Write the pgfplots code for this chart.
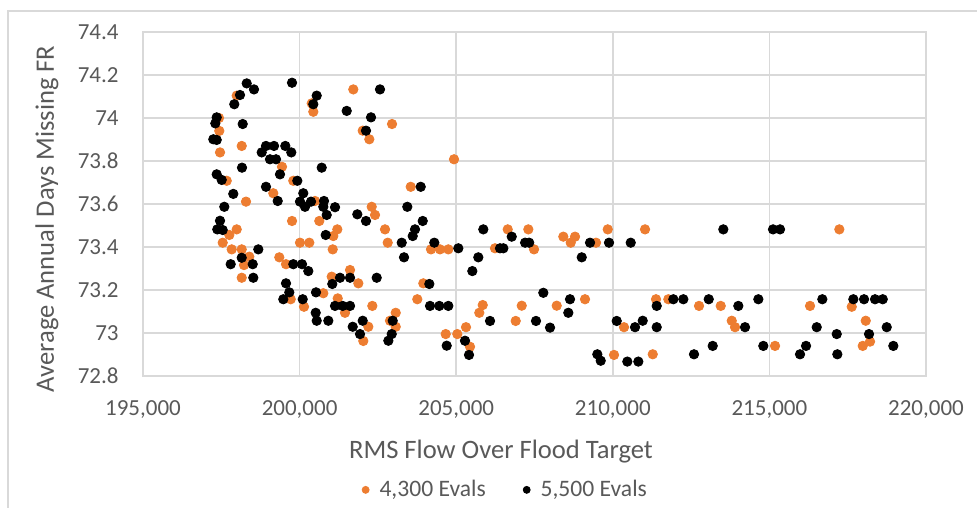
\documentclass[border=0pt]{standalone}
\usepackage{fontspec}
\setmainfont{Carlito}
\usepackage{pgfplots}
\usepackage{pgfplotstable}
\pgfplotsset{compat=1.18}

\definecolor{evalA}{HTML}{ED7D31}
\definecolor{evalB}{HTML}{000000}
\definecolor{txt}{HTML}{595959}
\definecolor{gridc}{HTML}{D9D9D9}

% 4,300 evaluations
\pgfplotstableread{
x y
197992 74.104
200387 74.068
200438 74.029
197427 74.000
197436 73.940
198152 73.870
197459 73.840
199438 73.773
197673 73.708
199799 73.708
199160 73.650
198289 73.611
200492 73.614
197992 73.482
197756 73.456
197545 73.420
197832 73.389
198152 73.389
198394 73.355
198225 73.316
199352 73.352
199566 73.320
198152 73.257
199758 73.521
200629 73.521
200013 73.420
200310 73.420
199716 73.157
200141 73.122
200757 73.185
201715 74.133
202951 73.972
202015 73.941
202226 73.901
203548 73.680
202302 73.587
202408 73.549
202727 73.482
201204 73.482
201076 73.451
202813 73.420
204196 73.389
204483 73.389
204748 73.389
201057 73.389
201610 73.293
201025 73.262
201875 73.231
203950 73.231
201217 73.161
201450 73.094
202322 73.126
203069 73.094
202887 73.057
203069 73.029
202194 73.029
202034 72.963
203758 73.157
204665 72.995
204930 73.808
206645 73.482
207303 73.482
207485 73.389
208420 73.448
208794 73.448
208656 73.420
209464 73.420
209838 73.482
206239 73.394
209113 73.157
208209 73.127
207092 73.127
205847 73.130
205738 73.094
206900 73.056
205036 72.995
205313 73.027
205441 72.936
210039 72.898
211029 73.482
211380 73.157
211773 73.157
212753 73.126
213446 73.126
210358 73.027
213797 73.057
213903 73.027
215180 72.940
211275 72.901
217233 73.482
216297 73.126
217629 73.122
218076 73.057
217980 72.940
218213 72.960
}\evalsA

% 5,500 evaluations
\pgfplotstableread{
x y
198311 74.161
198544 74.133
199758 74.164
198097 74.107
200546 74.104
197915 74.064
200438 74.064
197353 74.003
197309 73.975
198183 73.972
197245 73.901
197353 73.898
198927 73.870
199183 73.870
199544 73.870
199735 73.840
198790 73.840
199055 73.808
199247 73.808
198161 73.769
199374 73.738
200706 73.769
197353 73.738
197513 73.712
199927 73.708
198927 73.680
197883 73.647
200118 73.650
199301 73.614
197596 73.587
200013 73.611
200364 73.611
200779 73.614
200173 73.587
200757 73.587
200865 73.549
197459 73.522
197372 73.482
197545 73.479
198682 73.389
198152 73.350
197800 73.320
198503 73.320
199799 73.320
200077 73.320
200278 73.288
198522 73.257
200834 73.456
199566 73.231
199671 73.189
199480 73.157
200099 73.157
200524 73.189
200514 73.094
200546 73.057
200917 73.057
202567 74.133
201504 74.033
202280 74.003
202120 73.941
203867 73.680
203439 73.587
201131 73.585
201843 73.552
202120 73.521
203931 73.521
203685 73.482
203612 73.451
203260 73.420
204301 73.420
203334 73.352
201290 73.257
201610 73.257
201044 73.228
202462 73.257
204142 73.228
201131 73.126
201376 73.126
201610 73.126
202015 73.057
202973 73.057
201696 73.029
201929 72.995
202941 72.995
202834 72.964
204164 73.126
204461 73.126
204748 73.126
204697 72.941
205866 73.482
206773 73.448
207200 73.420
207330 73.420
209273 73.420
209879 73.420
209008 73.352
205068 73.394
206399 73.394
206505 73.394
205706 73.352
205515 73.288
207782 73.187
208634 73.157
208580 73.094
206080 73.056
207548 73.056
207996 73.025
210125 73.056
205281 72.964
205409 72.898
209506 72.901
209614 72.871
210572 73.420
213529 73.482
215116 73.482
215339 73.482
211933 73.157
212252 73.157
211402 73.126
213063 73.157
214008 73.126
214647 73.157
210710 73.027
210955 73.057
211402 73.027
214222 73.027
213190 72.940
214806 72.940
212593 72.901
210464 72.867
210815 72.867
216690 73.157
217680 73.157
218022 73.157
218373 73.157
218619 73.157
216511 73.027
217150 72.995
218181 72.995
218746 73.027
216170 72.940
215978 72.901
217169 72.901
218957 72.940
}\evalsB

\begin{document}
\begin{tikzpicture}
\useasboundingbox (-71.5bp,-66bp) rectangle (417bp,188bp);
% chart area frame
\draw[gridc, line width=0.8bp] (-67.5bp,-66bp) -- (-67.5bp,182.5bp) -- (417bp,182.5bp);
\begin{axis}[
  scale only axis,
  width=391.5bp, height=172bp,
  xmin=195000, xmax=220000,
  ymin=72.8, ymax=74.4,
  xtick={195000,200000,205000,210000,215000,220000},
  xticklabels={{195,000},{200,000},{205,000},{210,000},{215,000},{220,000}},
  ytick={72.8,73,73.2,73.4,73.6,73.8,74,74.2,74.4},
  yticklabels={72.8,73,73.2,73.4,73.6,73.8,74,74.2,74.4},
  scaled x ticks=false, scaled y ticks=false,
  major tick length=0pt,
  grid=major,
  major grid style={gridc, line width=0.8bp},
  axis line style={gridc, line width=0.8bp},
  tick label style={text=txt, font=\fontsize{11.5bp}{14bp}\selectfont, inner sep=0pt},
  xticklabel style={anchor=north, yshift=-12bp},
  yticklabel style={anchor=east, xshift=-12bp},
  xlabel={RMS Flow Over Flood Target},
  ylabel={Average Annual Days Missing FR},
  every axis x label/.style={at={(axis description cs:0.4572,0)}, anchor=base, yshift=-41bp,
    text=txt, font=\fontsize{13.3bp}{16bp}\selectfont, inner sep=0pt},
  % rotated label: its local y axis points left
  every axis y label/.style={at={(axis description cs:0,0.4564)}, rotate=90, anchor=base, yshift=44.5bp,
    text=txt, font=\fontsize{13.3bp}{16bp}\selectfont, inner sep=0pt},
  legend style={at={(0.464,-0.331)}, anchor=center, draw=none, fill=none,
    font=\fontsize{11.8bp}{14bp}\selectfont, text=txt,
    /tikz/every odd column/.append style={column sep=3bp},
    /tikz/every even column/.append style={column sep=16.5bp}},
  legend columns=2,
  legend image code/.code={\fill (0bp,0bp) circle (1.75bp);},
  clip=false,
]
\addplot[only marks, mark=*, mark size=2.35bp, color=evalA,
  mark options={draw=evalA, fill=evalA}] table[x=x, y=y] {\evalsA};
\addlegendentry{4,300 Evals}
\addplot[only marks, mark=*, mark size=2.35bp, color=evalB,
  mark options={draw=evalB, fill=evalB}] table[x=x, y=y] {\evalsB};
\addlegendentry{5,500 Evals}
\end{axis}
\end{tikzpicture}
\end{document}
